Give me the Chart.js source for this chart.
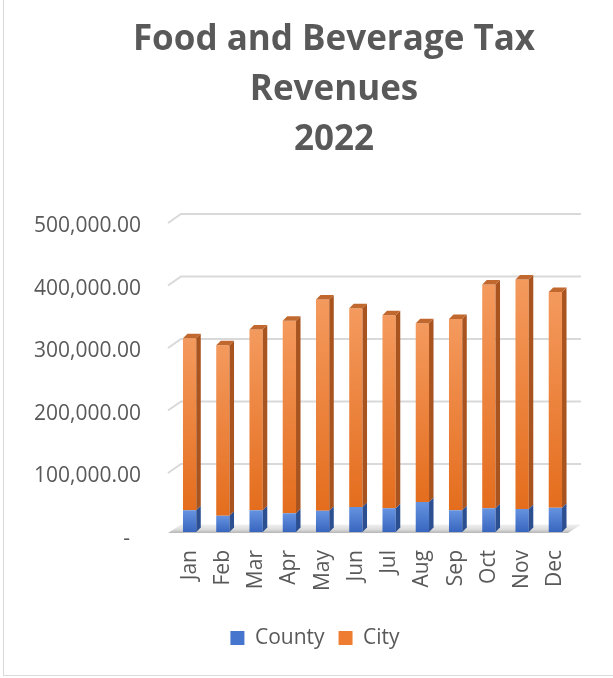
<!DOCTYPE html>
<html>
<head>
<meta charset="utf-8">
<script src="https://cdn.jsdelivr.net/npm/chart.js@4.4.1/dist/chart.umd.min.js"></script>
<style>
html,body{margin:0;padding:0;background:#fff;overflow:hidden;}
#frame{position:absolute;left:3px;top:-2px;width:700px;height:678px;box-sizing:border-box;border:1px solid #d9d9d9;}
#wrap{position:absolute;left:0;top:0;width:613px;height:678px;}
</style>
</head>
<body>
<div id="frame"></div>
<div id="wrap"><canvas id="c" width="613" height="678"></canvas></div>
<script>
// ---- data ----
const titleLines = ['Food and Beverage Tax', 'Revenues', '2022'];
const months = ['Jan','Feb','Mar','Apr','May','Jun','Jul','Aug','Sep','Oct','Nov','Dec'];
const seriesNames = ['County', 'City'];
const countyValues = [35000, 26000, 35000, 30000, 34000, 40000, 38000, 48000, 35000, 38000, 37000, 39000];
const cityValues = [275000, 273000, 289000, 308000, 338000, 318000, 309000, 286000, 306000, 358000, 367000, 345000];
const yTickValues = [0, 100000, 200000, 300000, 400000, 500000];

// ---- styles ----
const TEXT = '#595959';
const FONT = "'Open Sans', 'DejaVu Sans', sans-serif";
const DEPTH = {dx: 4.5, dy: 4.5};
const palette = {
  County: {light: '#6693e0', dark: '#3866bf', side: '#2b4f91', top: '#3a63b0', legend: '#4575cc'},
  City:   {light: '#f49a5e', dark: '#e46d1d', side: '#a9531f', top: '#c1682f', legend: '#ee7d31'}
};

function segmentFill(name) {
  return function (c) {
    const pal = palette[name];
    const chart = c.chart;
    if (c.type !== 'data' || !chart.chartArea || !chart.scales.y) return pal.legend;
    const y = chart.scales.y;
    let start = 0;
    for (let d = 0; d < c.datasetIndex; d++) start += chart.data.datasets[d].data[c.dataIndex];
    const end = start + chart.data.datasets[c.datasetIndex].data[c.dataIndex];
    const g = chart.ctx.createLinearGradient(0, y.getPixelForValue(end), 0, y.getPixelForValue(start));
    g.addColorStop(0, pal.light);
    g.addColorStop(1, pal.dark);
    return g;
  };
}

const excel3d = {
  id: 'excel3d',
  afterLayout(chart) {
    if (chart.titleBlock) { chart.titleBlock.left += 48; chart.titleBlock.right += 48; }
    if (chart.legend) { chart.legend.left += 29; chart.legend.right += 29; }
  },
  beforeDatasetsDraw(chart) {
    const {ctx, chartArea} = chart;
    const {left, right} = chartArea;
    const y = chart.scales.y;
    ctx.save();
    // back-wall gridlines with slanted side-wall part
    y.ticks.forEach(t => {
      if (t.value === 0) return;
      const py = y.getPixelForValue(t.value);
      ctx.beginPath();
      ctx.moveTo(left - 5, py + 3.5);
      ctx.lineTo(left + 8, py - 5.5);
      ctx.lineTo(right + 9, py - 5.5);
      ctx.strokeStyle = '#d9d9d9';
      ctx.lineWidth = 2;
      ctx.stroke();
    });
    // floor slab
    const p0 = y.getPixelForValue(0);
    const g = ctx.createLinearGradient(0, p0 - 8, 0, p0 + 1);
    g.addColorStop(0, '#f2f2f2');
    g.addColorStop(0.6, '#dcdcdc');
    g.addColorStop(1, '#b5b5b5');
    ctx.beginPath();
    ctx.moveTo(left - 5, p0 + 1);
    ctx.lineTo(left + 8, p0 - 7.5);
    ctx.lineTo(right + 9, p0 - 7.5);
    ctx.lineTo(right - 4, p0 + 1);
    ctx.closePath();
    ctx.fillStyle = g;
    ctx.fill();
    ctx.restore();
  },
  afterDatasetsDraw(chart) {
    const ctx = chart.ctx;
    const {dx, dy} = DEPTH;
    const n = chart.data.datasets.length;
    ctx.save();
    chart.data.datasets.forEach((ds, di) => {
      const meta = chart.getDatasetMeta(di);
      const pal = palette[ds.label];
      meta.data.forEach(bar => {
        const {x, y, base, width} = bar.getProps(['x', 'y', 'base', 'width'], true);
        const r = x + width / 2, l = x - width / 2;
        ctx.beginPath();
        ctx.moveTo(r, y);
        ctx.lineTo(r + dx, y - dy);
        ctx.lineTo(r + dx, base - dy);
        ctx.lineTo(r, base);
        ctx.closePath();
        ctx.fillStyle = pal.side;
        ctx.fill();
        if (di === n - 1) {
          ctx.beginPath();
          ctx.moveTo(l, y);
          ctx.lineTo(l + dx, y - dy);
          ctx.lineTo(r + dx, y - dy);
          ctx.lineTo(r, y);
          ctx.closePath();
          ctx.fillStyle = pal.top;
          ctx.fill();
        }
      });
    });
    ctx.restore();
  }
};

Chart.defaults.font.family = FONT;
Chart.defaults.color = TEXT;

new Chart(document.getElementById('c'), {
  type: 'bar',
  data: {
    labels: months,
    datasets: [
      {label: seriesNames[0], data: countyValues, backgroundColor: segmentFill('County'), borderWidth: 0},
      {label: seriesNames[1], data: cityValues, backgroundColor: segmentFill('City'), borderWidth: 0}
    ]
  },
  options: {
    responsive: false,
    animation: false,
    devicePixelRatio: 1,
    layout: {padding: {left: 0, right: 41, top: 0, bottom: 19.5}},
    datasets: {bar: {barPercentage: 0.4, categoryPercentage: 1.0}},
    scales: {
      x: {
        stacked: true,
        grid: {display: false, drawTicks: false},
        border: {display: false},
        ticks: {
          autoSkip: false, minRotation: 90, maxRotation: 90, padding: 18,
          color: TEXT, font: {size: 21, family: FONT}
        },
        afterFit(s) { s.height = 81.5; }
      },
      y: {
        stacked: true,
        min: 0, max: 500000,
        afterBuildTicks(s) { s.ticks = yTickValues.map(v => ({value: v})); },
        grid: {display: false, drawTicks: false},
        border: {display: false},
        ticks: {
          padding: 32, labelOffset: 7, color: TEXT, font: {size: 21, family: FONT},
          callback(v) {
            return v === 0 ? '-  ' : Number(v).toLocaleString('en-US', {minimumFractionDigits: 2, maximumFractionDigits: 2});
          }
        },
        afterFit(s) { s.width = 173; }
      }
    },
    plugins: {
      tooltip: {enabled: false},
      title: {
        display: true,
        text: titleLines,
        color: TEXT,
        font: {family: FONT, size: 35, weight: 'bold', lineHeight: 50 / 35},
        padding: {top: 15, bottom: 54.5}
      },
      legend: {
        position: 'bottom',
        labels: {
          boxWidth: 14, boxHeight: 14, padding: 14,
          color: TEXT, font: {size: 21, family: FONT},
          generateLabels(chart) {
            return chart.data.datasets.map((ds, i) => ({
              text: ds.label, fillStyle: palette[ds.label].legend, strokeStyle: palette[ds.label].legend,
              lineWidth: 0, hidden: false, datasetIndex: i, fontColor: TEXT
            }));
          }
        }
      }
    }
  },
  plugins: [excel3d]
});
</script>
</body>
</html>
